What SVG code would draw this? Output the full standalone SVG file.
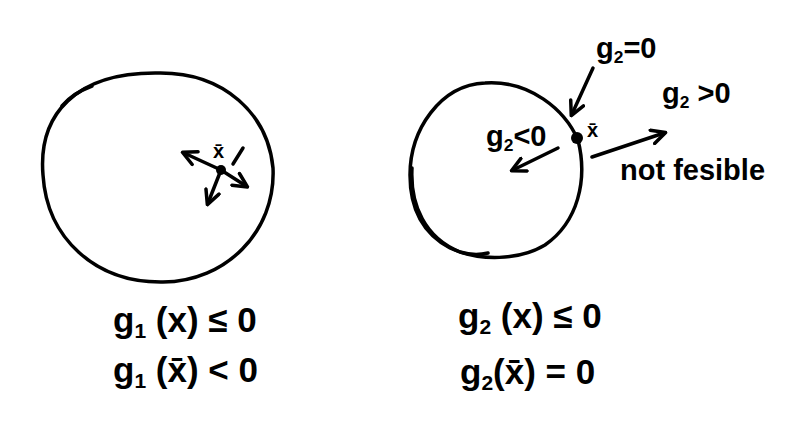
<svg xmlns="http://www.w3.org/2000/svg" width="798" height="446" viewBox="0 0 798 446">
<defs>
<style>
.ln{fill:none;stroke:#000;stroke-width:3.5;stroke-linecap:round;stroke-linejoin:round}
.t{font-family:"Liberation Sans",Arial,sans-serif;fill:#000;font-weight:bold}
.big{font-size:35px}
.mid{font-size:29px}
.sm{font-size:20px}
.sub{font-size:0.6em}
</style>
<marker id="ah" viewBox="0 0 10 10" refX="8" refY="5" markerWidth="5" markerHeight="5" orient="auto-start-reverse" markerUnits="strokeWidth">
<path d="M1,1 L9,5 L1,9" fill="none" stroke="#000" stroke-width="2" stroke-linecap="round" stroke-linejoin="round"/>
</marker>
</defs>
<rect width="798" height="446" fill="#fff"/>

<g id="left-region">
<path class="ln" d="M158,73 C225,72 268,115 273,168 C276,232 225,282 163,282 C95,283 47,238 43,175 C38,115 75,72 158,73 Z"/>
<path class="ln" d="M62,106 Q73,93 92,86" stroke-width="6"/>
<circle cx="221" cy="170" r="5" fill="#000"/>
<text class="t sm" x="213" y="158">x̄</text>
</g>

<g id="right-region">
<path class="ln" d="M485,83 C530,80 565,110 578,140 C588,180 578,222 545,245 C520,260 480,262 450,248 C420,232 410,205 410,175 C410,130 440,85 485,83 Z"/>
<path class="ln" d="M412,168 C410,205 425,238 460,252 C470,255 480,255 488,253"/>
<circle cx="577" cy="138" r="6" fill="#000"/>
<text class="t sm" x="587" y="137">x̄</text>
</g>

<g id="labels">
<text class="t mid" x="596" y="58">g<tspan class="sub" dy="5">2</tspan><tspan dy="-5">=0</tspan></text>
<text class="t mid" x="662" y="103">g<tspan class="sub" dy="5">2</tspan><tspan dy="-5"> &gt;0</tspan></text>
<text class="t mid" x="486" y="146">g<tspan class="sub" dy="5">2</tspan><tspan dy="-5">&lt;0</tspan></text>
<text class="t mid" x="620" y="180">not fesible</text>
<text class="t big" x="113" y="332">g<tspan class="sub" dy="6">1</tspan><tspan dy="-6"> (x) ≤ 0</tspan></text>
<text class="t big" x="113" y="382">g<tspan class="sub" dy="6">1</tspan><tspan dy="-6"> (x̄) &lt; 0</tspan></text>
<text class="t big" x="458" y="328">g<tspan class="sub" dy="6">2</tspan><tspan dy="-6"> (x) ≤ 0</tspan></text>
<text class="t big" x="460" y="384">g<tspan class="sub" dy="6">2</tspan><tspan dy="-6">(x̄) = 0</tspan></text>
</g>

<g id="connectors">
<line class="ln" x1="221" y1="170" x2="184" y2="153" marker-end="url(#ah)"/>
<line class="ln" x1="221" y1="170" x2="246" y2="186" marker-end="url(#ah)"/>
<line class="ln" x1="221" y1="170" x2="208" y2="203" marker-end="url(#ah)"/>
<line class="ln" x1="243" y1="148" x2="233" y2="164" stroke-width="2.5"/>
<line class="ln" x1="593" y1="68" x2="572" y2="114" marker-end="url(#ah)"/>
<line class="ln" x1="558" y1="148" x2="513" y2="170" marker-end="url(#ah)"/>
<line class="ln" x1="592" y1="157" x2="664" y2="133" marker-end="url(#ah)"/>
</g>
</svg>
